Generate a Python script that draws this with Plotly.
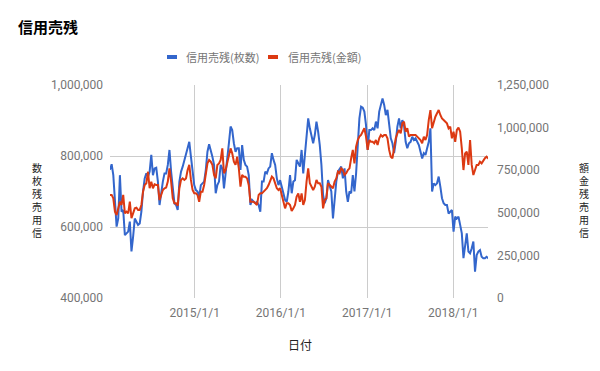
import pandas as pd
import plotly.graph_objects as go

# ---- data ----
start_date = "2014-01-07"
shares = [  # 信用売残(枚数)
    761,777,746,662,601,624,746,643,648,577,582,587,615,531,573,624,615,606,610,643,700,737,751,742,756,803,746,765,767,728,662,700,728,751,751,775,817,756,700,667,662,648,728,756,770,789,
    808,826,840,798,751,718,704,700,685,718,723,728,761,812,833,817,798,775,695,718,728,775,765,709,746,784,836,883,873,836,812,822,822,761,831,789,775,770,746,662,676,671,667,671,662,643,728,
    728,756,751,765,770,808,789,775,737,718,732,714,690,676,671,700,746,695,728,732,789,779,770,817,751,803,854,906,878,854,836,859,897,869,831,775,690,667,681,732,718,700,624,690,728,756,
    765,770,737,765,700,671,700,695,746,700,751,845,906,939,936,925,887,817,873,873,878,873,897,878,925,944,962,944,915,930,883,850,836,808,840,883,906,878,901,887,840,822,836,840,854,845,
    850,840,831,812,793,808,803,822,840,878,700,723,718,723,742,714,681,667,662,662,638,643,648,587,629,624,629,606,582,512,549,582,531,526,540,559,474,521,531,535,516,512,512,516,512,516,
]
amount = [  # 信用売残(金額)
    605,605,585,507,487,526,565,546,605,497,507,497,565,468,497,526,530,517,517,546,624,663,673,741,644,683,644,667,663,663,575,605,634,644,648,683,761,683,585,556,556,542,644,693,702,693,
    702,751,781,693,634,614,614,605,565,624,624,663,732,790,810,800,781,722,702,781,790,810,878,732,751,790,839,878,849,800,781,829,761,653,722,712,712,702,663,565,565,565,556,546,605,614,614,
    624,634,644,663,683,712,702,673,644,634,644,605,565,526,556,556,546,511,526,546,595,614,565,614,546,575,683,761,673,653,634,653,693,673,673,653,526,575,585,673,663,653,644,683,702,741,
    732,761,751,722,732,751,761,820,869,790,888,927,947,957,976,996,947,869,927,917,917,908,927,898,937,957,947,957,957,937,869,829,820,888,937,966,986,966,1025,1035,976,996,947,957,957,961,
    957,947,937,927,908,947,927,957,1045,1103,996,1035,1064,1084,1103,1074,1054,1045,1035,1025,996,1006,937,976,917,986,1000,976,878,751,849,859,781,927,781,722,751,781,781,800,790,810,820,829,820,810,
]
shares = [v * 1000 for v in shares]
amount = [v * 1000 for v in amount]
dates = pd.date_range(start_date, periods=len(shares), freq="7D")

x_ticks = ["2015-01-01", "2016-01-01", "2017-01-01", "2018-01-01"]
x_tick_labels = ["2015/1/1", "2016/1/1", "2017/1/1", "2018/1/1"]
left_ticks = [400000, 600000, 800000, 1000000]
right_ticks = [0, 250000, 500000, 750000, 1000000, 1250000]

series_names = ["信用売残(枚数)", "信用売残(金額)"]
axis_titles = ["数枚残売用信", "額金残売用信"]
colors = ["#3366cc", "#dc3912"]

# ---- layout geometry (pixels) ----
W, H = 600, 371
L, R, T, B = 110, 488, 85, 298
def px_x(p): return (p - L) / (R - L)
def px_y(p): return (B - p) / (B - T)

JP = "Noto Sans CJK JP"
TICKFONT = dict(family="Roboto, Arial, sans-serif", size=12, color="#757575")

fig = go.Figure()
fig.add_trace(go.Scatter(x=dates, y=shares, name=series_names[0], mode="lines",
                         line=dict(color=colors[0], width=2), yaxis="y"))
fig.add_trace(go.Scatter(x=dates, y=amount, name=series_names[1], mode="lines",
                         line=dict(color=colors[1], width=2), yaxis="y2"))

annotations = []
shapes = []
# legend (custom)
leg = [(167, 184), (268, 286)]
for (sx, tx), name, c in zip(leg, series_names, colors):
    shapes.append(dict(type="rect", xref="paper", yref="paper",
                       x0=px_x(sx), x1=px_x(sx + 10), y0=px_y(59), y1=px_y(55),
                       fillcolor=c, line=dict(width=0)))
    annotations.append(dict(text=name, xref="paper", yref="paper", x=px_x(tx), y=px_y(57),
                            xanchor="left", yanchor="middle", showarrow=False,
                            font=dict(family=JP, size=11, color="#757575")))
# vertical axis titles (stacked characters)
for chars, cx in zip(axis_titles, [36.5, 583.5]):
    annotations.append(dict(text="<br>".join(chars), xref="paper", yref="paper", x=px_x(cx),
                            y=px_y(200), xanchor="center", yanchor="middle", align="center",
                            showarrow=False, font=dict(family=JP, size=10, color="#222222")))
# x axis title
annotations.append(dict(text="日付", xref="paper", yref="paper", x=px_x(300), y=px_y(344),
                        xanchor="center", yanchor="middle", showarrow=False,
                        font=dict(family=JP, size=12, color="#222222")))

fig.update_layout(
    width=W, height=H,
    margin=dict(l=L, r=W - R, t=T, b=H - B, pad=0, autoexpand=False),
    paper_bgcolor="white", plot_bgcolor="white",
    showlegend=False,
    title=dict(text="<b>信用売残</b>", x=18 / W, xanchor="left", xref="container",
               y=1 - 28 / H, yanchor="middle", yref="container",
               font=dict(family=JP, size=15, color="#000000")),
    xaxis=dict(range=["2014-01-07", "2018-05-28"], tickvals=x_ticks, ticktext=x_tick_labels,
               showgrid=True, gridcolor="#cccccc", gridwidth=1, zeroline=False,
               showline=False, ticks="", tickfont=TICKFONT, ticklabelstandoff=6,
               automargin=False),
    yaxis=dict(range=[400000, 1000000], tickvals=left_ticks, tickformat=",",
               showgrid=True, gridcolor="#cccccc", gridwidth=1, zeroline=False,
               showline=False, ticks="", tickfont=TICKFONT, ticklabelstandoff=6,
               automargin=False),
    yaxis2=dict(range=[0, 1250000], tickvals=right_ticks, tickformat=",", overlaying="y",
                side="right", showgrid=False, zeroline=False, showline=False, ticks="",
                tickfont=TICKFONT, ticklabelstandoff=8, automargin=False),
    annotations=annotations, shapes=shapes,
)

fig.write_html("out.html", config={"displayModeBar": False},
               post_script="document.body.style.margin='0';")
